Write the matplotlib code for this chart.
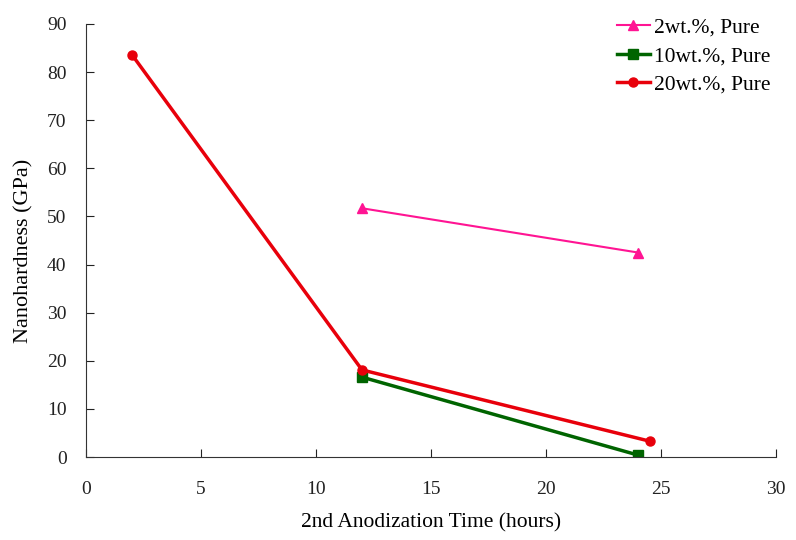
import matplotlib
matplotlib.use("Agg")
import matplotlib.pyplot as plt

plt.rcParams['font.family'] = ['Liberation Serif', 'DejaVu Serif']

x_2wt = [12, 24]
y_2wt = [51.7, 42.5]
x_10wt = [12, 24]
y_10wt = [16.6, 0.4]
x_20wt = [2, 12, 24.5]
y_20wt = [83.6, 18.1, 3.3]

fig = plt.figure(figsize=(7.96, 5.4), dpi=100)
ax = fig.add_axes([86/796, 1-457/540, 690/796, 433/540])

ax.plot(x_2wt, y_2wt, color='#FF1493', lw=1.5, marker='^', ms=6.5, label='2wt.%, Pure')
ax.plot(x_10wt, y_10wt, color='#006400', lw=2.5, marker='s', ms=6.5, label='10wt.%, Pure')
ax.plot(x_20wt, y_20wt, color='#E8000B', lw=2.5, marker='o', ms=6.5, label='20wt.%, Pure')

ax.set_xlim(0, 30)
ax.set_ylim(0, 90)
ax.set_xticks(range(0, 31, 5))
ax.set_yticks(range(0, 91, 10))
for s in ['top', 'right']:
    ax.spines[s].set_visible(False)
for s in ['left', 'bottom']:
    ax.spines[s].set_color('#333333')
ax.tick_params(direction='in', length=6, labelsize=14, colors='#222222')
ax.tick_params(axis='x', pad=17)
ax.tick_params(axis='y', pad=14)
ax.set_xlabel('2nd Anodization Time (hours)', fontsize=15.5, labelpad=11)
ax.set_ylabel('Nanohardness (GPa)', fontsize=16)
ax.yaxis.set_label_coords(-0.076, 0.475)
ax.legend(loc='upper right', bbox_to_anchor=(1.02, 1.06), frameon=False, fontsize=15.5,
          handlelength=1.5, handletextpad=0.2, labelspacing=0.4)

fig.savefig('out.png', dpi=100)
